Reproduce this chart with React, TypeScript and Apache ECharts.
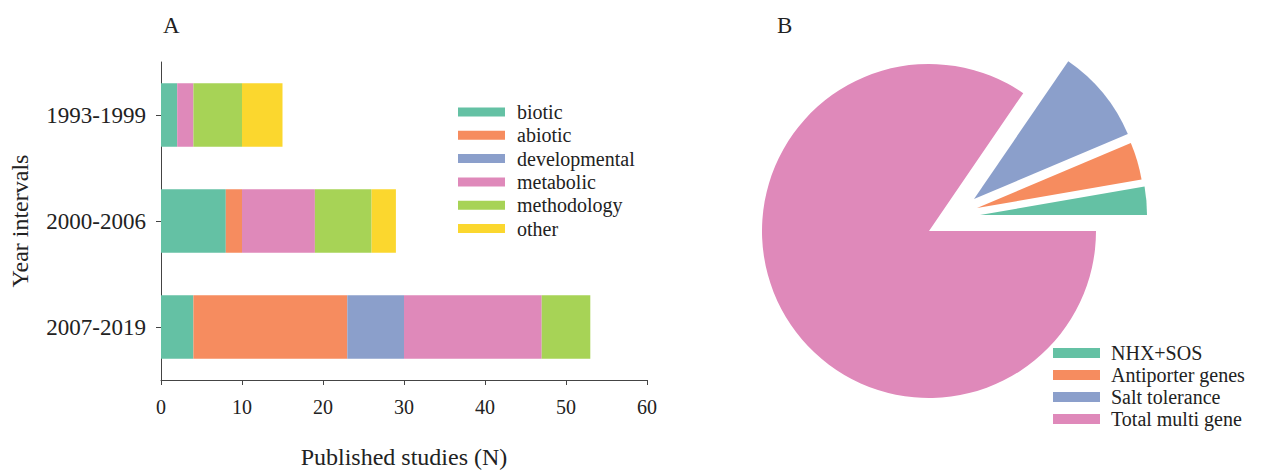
import React, { useEffect, useRef } from "react";
import * as echarts from "echarts";

const categories = ["1993-1999", "2000-2006", "2007-2019"];
const seriesNames = ["biotic", "abiotic", "developmental", "metabolic", "methodology", "other"];
const biotic = [2, 8, 4];
const abiotic = [0, 2, 19];
const developmental = [0, 0, 7];
const metabolic = [2, 9, 17];
const methodology = [6, 7, 6];
const other = [5, 3, 0];
const barValues = [biotic, abiotic, developmental, metabolic, methodology, other];
const barColors = ["#64c1a4", "#f68c5f", "#8b9fcb", "#df89ba", "#a7d356", "#fbd72e"];

const pieNames = ["NHX+SOS", "Antiporter genes", "Salt tolerance", "Total multi gene"];
const pieValues = [3, 4, 10, 93];
const pieColors = ["#64c1a4", "#f68c5f", "#8b9fcb", "#df89ba"];

const FONT = "'Liberation Serif', 'Times New Roman', serif";
const TXT = "#222";

// layout constants for pie
const PIE_CX = 929;
const PIE_CY = 231;
const PIE_R = 167;
const pieOffsets = [
  [51, -16],
  [48, -23],
  [45, -32],
  [0, 0],
];

export default function App() {
  const ref = useRef<HTMLDivElement>(null);
  useEffect(() => {
    if (!ref.current) return;
    const chart = echarts.init(ref.current, undefined, { renderer: "svg" });
    const total = pieValues.reduce((a, b) => a + b, 0);
    let cum = 0;
    const pieSeries = pieValues.map((v, i) => {
      const start = (360 * cum) / total;
      cum += v;
      return {
        type: "pie",
        silent: true,
        clockwise: false,
        startAngle: start,
        center: [PIE_CX + pieOffsets[i][0], PIE_CY + pieOffsets[i][1]],
        radius: PIE_R,
        label: { show: false },
        labelLine: { show: false },
        emphasis: { disabled: true },
        itemStyle: { borderWidth: 0 },
        data: [
          { name: pieNames[i], value: v, itemStyle: { color: pieColors[i] } },
          { name: "", value: total - v, itemStyle: { color: "rgba(0,0,0,0)" } },
        ],
      };
    });
    const barSeries = seriesNames.map((n, i) => ({
      name: n,
      type: "bar",
      stack: "total",
      barCategoryGap: "40%",
      itemStyle: { color: barColors[i] },
      emphasis: { disabled: true },
      data: barValues[i],
    }));
    chart.setOption({
      animation: false,
      backgroundColor: "#fff",
      textStyle: { fontFamily: FONT },
      graphic: [
        { type: "text", left: 163, top: 14, style: { text: "A", font: `23px ${FONT}`, fill: TXT } },
        { type: "text", left: 777, top: 14, style: { text: "B", font: `23px ${FONT}`, fill: TXT } },
      ],
      legend: [
        {
          data: seriesNames,
          orient: "vertical",
          left: 458,
          top: 102,
          padding: 0,
          icon: "rect",
          itemWidth: 47,
          itemHeight: 9,
          itemGap: 3.3,
          textStyle: { fontFamily: FONT, fontSize: 20, color: TXT, lineHeight: 20, padding: [0, 0, 0, 7] },
          selectedMode: false,
        },
        {
          data: pieNames,
          orient: "vertical",
          left: 1053,
          top: 343,
          padding: 0,
          icon: "rect",
          itemWidth: 47,
          itemHeight: 10,
          itemGap: 2,
          textStyle: { fontFamily: FONT, fontSize: 20, color: TXT, lineHeight: 20, padding: [0, 0, 0, 6] },
          selectedMode: false,
        },
      ],
      grid: { left: 161, top: 62, width: 486, height: 325, containLabel: false },
      xAxis: {
        type: "value",
        min: 0,
        max: 60,
        interval: 10,
        name: "Published studies (N)",
        nameLocation: "middle",
        nameGap: 65,
        nameTextStyle: { fontFamily: FONT, fontSize: 24, color: TXT },
        axisLine: { show: true, lineStyle: { color: "#444", width: 1 } },
        axisTick: { show: true, length: 5, lineStyle: { color: "#444" } },
        axisLabel: { fontFamily: FONT, fontSize: 20, color: TXT, margin: 17 },
        splitLine: { show: false },
      },
      yAxis: {
        type: "category",
        data: categories,
        inverse: true,
        name: "Year intervals",
        nameLocation: "middle",
        nameGap: 129,
        nameTextStyle: { fontFamily: FONT, fontSize: 24, color: TXT },
        axisLine: { show: true, lineStyle: { color: "#444", width: 1 } },
        axisTick: { show: true, length: 5, alignWithLabel: true, lineStyle: { color: "#444" } },
        axisLabel: { fontFamily: FONT, fontSize: 23, color: TXT, margin: 15 },
      },
      series: [...barSeries, ...pieSeries],
    });
    return () => chart.dispose();
  }, []);
  return (
    <div
      ref={ref}
      style={{ position: "fixed", left: 0, top: 0, width: 1262, height: 474, background: "#fff" }}
    />
  );
}
